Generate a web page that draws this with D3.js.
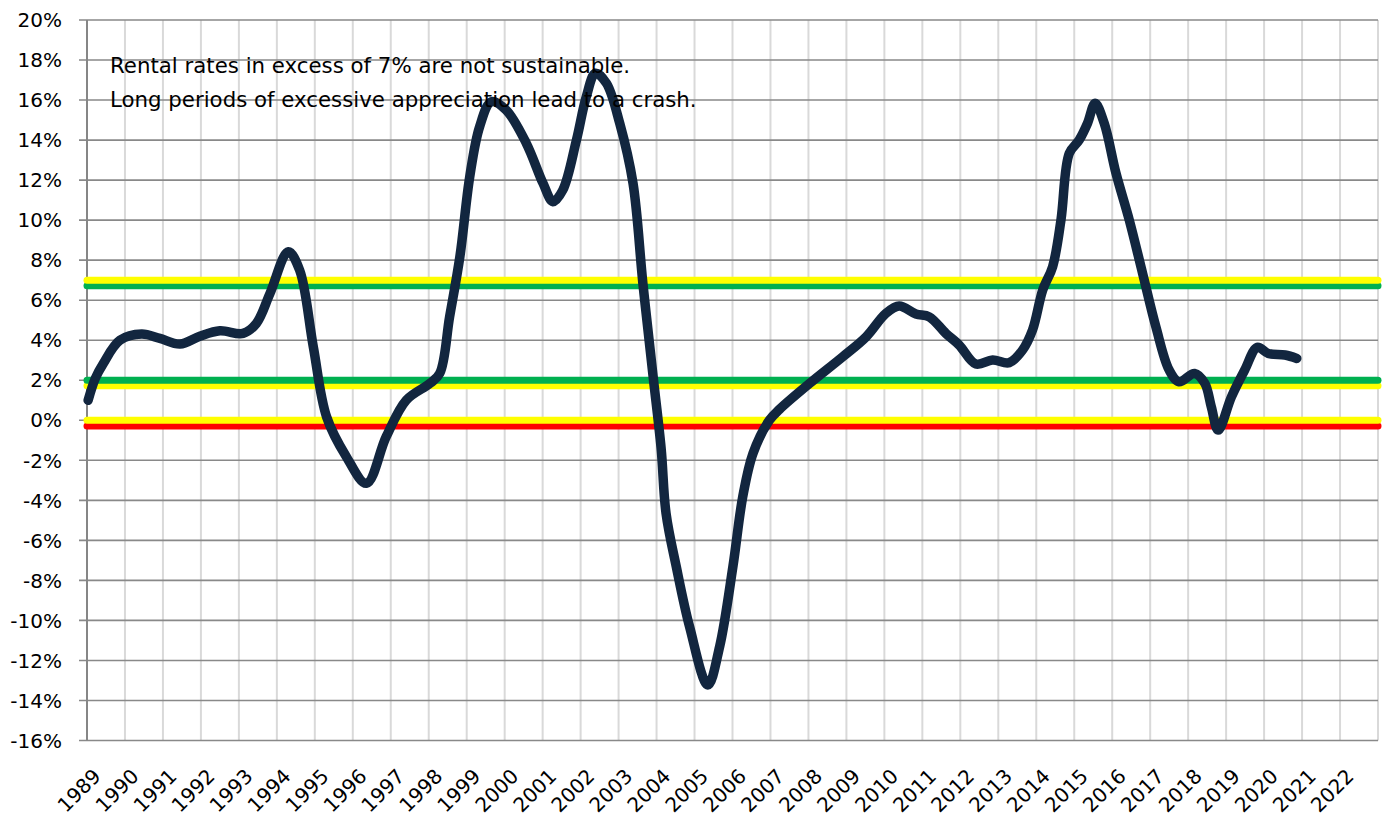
<!DOCTYPE html>
<html>
<head>
<meta charset="utf-8">
<script src="https://cdn.jsdelivr.net/npm/d3@7"></script>
<style>
  body { margin: 0; background: #fff; }
  svg { display: block; font-family: "DejaVu Sans", sans-serif; }
</style>
</head>
<body>
<div id="chart"></div>
<script>
// data (decimal year, annual % change)
const dates = [1989.03, 1989.22, 1989.43, 1989.87, 1990.44, 1990.92, 1991.45, 1991.97, 1992.5, 1993.11,
  1993.46, 1993.82, 1994.3, 1994.6, 1994.96, 1995.31, 1995.83, 1996.36, 1996.88, 1997.41,
  1998.03, 1998.29, 1998.55, 1998.82, 1999.08, 1999.34, 1999.65, 2000.04, 2000.57, 2001.01,
  2001.27, 2001.53, 2001.89, 2002.15, 2002.39, 2002.68, 2003.03, 2003.38, 2003.64, 2003.91,
  2004.12, 2004.25, 2004.52, 2004.87, 2005.35, 2005.66, 2006.01, 2006.27, 2006.54, 2006.97,
  2007.24, 2008.03, 2008.9, 2009.52, 2010.04, 2010.39, 2010.83, 2011.18, 2011.62, 2011.97,
  2012.41, 2012.85, 2013.29, 2013.64, 2013.9, 2014.17, 2014.43, 2014.65, 2014.87, 2015.13,
  2015.35, 2015.55, 2015.79, 2016.1, 2016.45, 2016.8, 2017.15, 2017.5, 2017.76, 2018.17,
  2018.44, 2018.61, 2018.79, 2019.14, 2019.49, 2019.82, 2020.11, 2020.55, 2020.86];
const rentChange = [1.0, 2.1, 2.84, 4.0, 4.31, 4.09, 3.81, 4.2, 4.47, 4.34,
  4.84, 6.34, 8.42, 7.5, 3.67, 0.17, -1.82, -3.15, -0.82, 1.01,
  1.84, 2.34, 5.17, 8.17, 12.17, 14.67, 15.92, 15.5, 13.84, 11.84,
  10.92, 11.5, 14.0, 16.17, 17.34, 16.84, 14.84, 11.84, 6.84, 2.17,
  -1.4, -4.65, -7.32, -10.32, -13.23, -11.32, -7.32, -3.82, -1.65, 0.0,
  0.55, 1.84, 3.17, 4.17, 5.34, 5.71, 5.31, 5.17, 4.34, 3.76,
  2.81, 3.01, 2.88, 3.51, 4.5, 6.51, 7.67, 10.0, 13.34, 14.0,
  14.84, 15.84, 14.84, 12.34, 10.0, 7.34, 4.67, 2.51, 1.92, 2.34,
  1.84, 0.67, -0.49, 1.17, 2.51, 3.64, 3.34, 3.26, 3.09];

// threshold bands
const refLevels = [-0.28, 0, 1.72, 2, 6.72, 7];
const refColors = ["#ff0000", "#ffff00", "#ffff00", "#00b050", "#00b050", "#ffff00"];

const yearLabels = ["1989", "1990", "1991", "1992", "1993", "1994", "1995", "1996", "1997", "1998",
  "1999", "2000", "2001", "2002", "2003", "2004", "2005", "2006", "2007", "2008", "2009", "2010",
  "2011", "2012", "2013", "2014", "2015", "2016", "2017", "2018", "2019", "2020", "2021", "2022"];
const yTicks = [-16, -14, -12, -10, -8, -6, -4, -2, 0, 2, 4, 6, 8, 10, 12, 14, 16, 18, 20];

const notes = ["Rental rates in excess of 7% are not sustainable.",
  "Long periods of excessive appreciation lead to a crash."];

const W = 1393, H = 821;
const margin = {top: 20, right: 15, bottom: 80.5, left: 87};

const svg = d3.select("#chart").append("svg")
    .attr("width", W)
    .attr("height", H);

const x = d3.scaleLinear()
    .domain([1989, 2023])
    .range([margin.left, W - margin.right]);

const y = d3.scaleLinear()
    .domain([-16, 20])
    .range([H - margin.bottom, margin.top]);

//------GRID-----------------------------------------------------
const gridYears = yearLabels.map(Number).concat([2023]);

svg.append("g")
    .selectAll("line")
    .data(gridYears)
    .join("line")
    .attr("x1", d => x(d))
    .attr("x2", d => x(d))
    .attr("y1", y(20))
    .attr("y2", y(-16))
    .attr("stroke", "#d9d9d9")
    .attr("stroke-width", 2);

svg.append("g")
    .selectAll("line")
    .data(yTicks)
    .join("line")
    .attr("x1", margin.left - 8)
    .attr("x2", x(2023))
    .attr("y1", d => y(d))
    .attr("y2", d => y(d))
    .attr("stroke", "#898989")
    .attr("stroke-width", 1.6);

// left axis line
svg.append("line")
    .attr("x1", x(1989)).attr("x2", x(1989))
    .attr("y1", y(20)).attr("y2", y(-16))
    .attr("stroke", "#868686")
    .attr("stroke-width", 2);

//------AXIS LABELS-----------------------------------------------------
svg.append("g")
    .selectAll("text")
    .data(yTicks)
    .join("text")
    .attr("x", 62)
    .attr("y", d => y(d))
    .attr("dy", "0.36em")
    .attr("text-anchor", "end")
    .attr("font-size", 20)
    .attr("fill", "#000")
    .text(d => d + "%");

svg.append("g")
    .selectAll("text")
    .data(yearLabels)
    .join("text")
    .attr("text-anchor", "end")
    .attr("dy", "0.36em")
    .attr("font-size", 20)
    .attr("fill", "#000")
    .attr("transform", d => `translate(${x(+d) + 10},${y(-16) + 32}) rotate(-45)`)
    .text(d => d);

//------REFERENCE LINES-----------------------------------------------------
svg.append("g")
    .selectAll("line")
    .data(refLevels)
    .join("line")
    .attr("x1", x(1989))
    .attr("x2", x(2023))
    .attr("y1", d => y(d))
    .attr("y2", d => y(d))
    .attr("stroke", (d, i) => refColors[i])
    .attr("stroke-width", 7)
    .attr("stroke-linecap", "round");

//------MAIN LINE-----------------------------------------------------
const line = d3.line()
    .x((d, i) => x(dates[i]))
    .y(d => y(d))
    .curve(d3.curveCatmullRom.alpha(0.5));

svg.append("path")
    .datum(rentChange)
    .attr("d", line)
    .attr("fill", "none")
    .attr("stroke", "#12263f")
    .attr("stroke-width", 9.5)
    .attr("stroke-linecap", "round")
    .attr("stroke-linejoin", "round");

//------NOTE-----------------------------------------------------
svg.append("g")
    .selectAll("text")
    .data(notes)
    .join("text")
    .attr("x", 110)
    .attr("y", (d, i) => 73 + i * 33.5)
    .attr("font-size", 21.3)
    .attr("fill", "#000")
    .text(d => d);
</script>
</body>
</html>
